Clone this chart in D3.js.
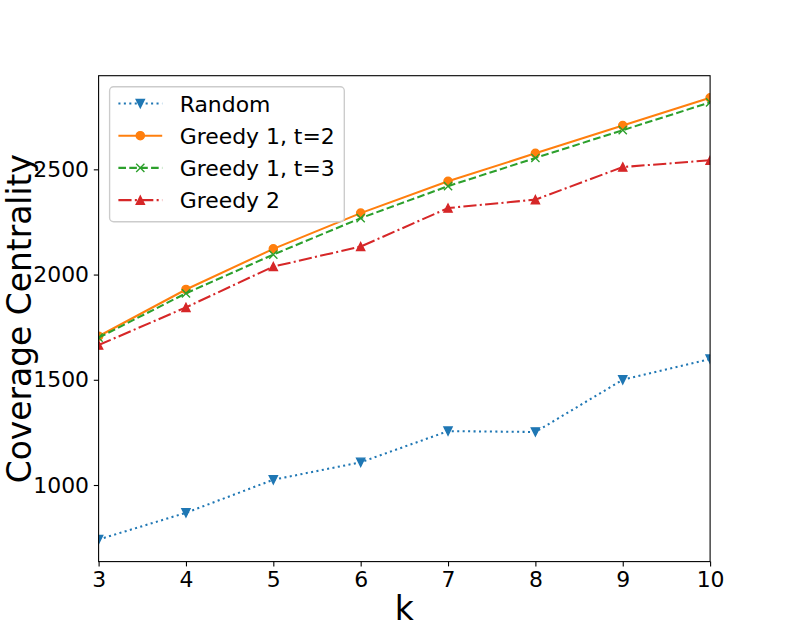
<!DOCTYPE html>
<html lang="en">
	<head>
		<meta charset="utf-8">
		<title>coverage centrality vs k</title>
		<script src="https://d3js.org/d3.v7.min.js"></script>
		<style>
			body { margin: 0; background: #fff; }
			text { font-family: "DejaVu Sans", sans-serif; }
		</style>
	</head>
	<body>
		<script type="text/javascript">
			// data
			var ks = [3, 4, 5, 6, 7, 8, 9, 10]
			var randomVals = [741, 868, 1025, 1108, 1256, 1252, 1500, 1598]
			var greedy1t2 = [1707, 1929, 2122, 2292, 2443, 2576, 2708, 2840]
			var greedy1t3 = [1700, 1911, 2095, 2268, 2420, 2554, 2686, 2818]
			var greedy2 = [1665, 1844, 2038, 2133, 2316, 2356, 2511, 2543]
			var seriesNames = ["Random", "Greedy 1, t=2", "Greedy 1, t=3", "Greedy 2"]
			var yTicks = [1000, 1500, 2000, 2500]

			// window size setup (matplotlib default margins)
			var w = 789
			var h = 631
			var plotLeft = 98.6, plotRight = 710.1, plotTop = 75.7, plotBottom = 561.6
			var pt = 1.37   // points -> px

			var series = [
				{ name: seriesNames[0], values: randomVals, color: "#1f77b4", dash: [1 * 1.5 * pt, 1.65 * 1.5 * pt], marker: "down" },
				{ name: seriesNames[1], values: greedy1t2, color: "#ff7f0e", dash: null, marker: "circle" },
				{ name: seriesNames[2], values: greedy1t3, color: "#2ca02c", dash: [3.7 * 1.5 * pt, 1.6 * 1.5 * pt], marker: "x" },
				{ name: seriesNames[3], values: greedy2, color: "#d62728", dash: [6.4 * 1.5 * pt, 1.6 * 1.5 * pt, 1 * 1.5 * pt, 1.6 * 1.5 * pt], marker: "up" }
			]

			// scales
			var allVals = [].concat(randomVals, greedy1t2, greedy1t3, greedy2)
			var ext = d3.extent(allVals)
			var pad = (ext[1] - ext[0]) * 0.05
			var xScale = d3.scaleLinear()
							.domain([3, 10])
							.range([plotLeft, plotRight])
			var yScale = d3.scaleLinear()
							.domain([ext[0] - pad, ext[1] + pad])
							.range([plotBottom, plotTop])

			var svg = d3.select("body")
						.append("svg")
						.attr("width", w)
						.attr("height", h)

			svg.append("defs").append("clipPath")
				.attr("id", "plotclip")
				.append("rect")
				.attr("x", plotLeft).attr("y", plotTop)
				.attr("width", plotRight - plotLeft).attr("height", plotBottom - plotTop)

			// marker shapes
			var ms = 3 * pt
			function markerPath(type) {
				if (type == "down") return "M" + (-ms) + "," + (-ms) + "L" + ms + "," + (-ms) + "L0," + ms + "Z"
				if (type == "up") return "M0," + (-ms) + "L" + ms + "," + ms + "L" + (-ms) + "," + ms + "Z"
				if (type == "x") return "M" + (-ms) + "," + (-ms) + "L" + ms + "," + ms + "M" + (-ms) + "," + ms + "L" + ms + "," + (-ms)
				return null
			}
			function drawMarker(g, type, color) {
				if (type == "circle") {
					g.append("circle").attr("r", ms).attr("fill", color).attr("stroke", color).attr("stroke-width", pt)
				} else if (type == "x") {
					g.append("path").attr("d", markerPath(type)).attr("fill", "none").attr("stroke", color).attr("stroke-width", pt)
				} else {
					g.append("path").attr("d", markerPath(type)).attr("fill", color).attr("stroke", color).attr("stroke-width", pt)
				}
			}

			var line = d3.line()
						.x(function(d, i) { return xScale(ks[i]) })
						.y(function(d) { return yScale(d) })

			var plot = svg.append("g").attr("clip-path", "url(#plotclip)")

			series.forEach(function(s) {
				plot.append("path")
					.datum(s.values)
					.attr("d", line)
					.attr("fill", "none")
					.attr("stroke", s.color)
					.attr("stroke-width", 1.5 * pt)
					.attr("stroke-dasharray", s.dash ? s.dash.join(",") : null)
				s.values.forEach(function(v, i) {
					var g = plot.append("g")
								.attr("transform", "translate(" + xScale(ks[i]) + "," + yScale(v) + ")")
					drawMarker(g, s.marker, s.color)
				})
			})

			// axes
			var tickLen = 3.5 * pt
			var xAxis = d3.axisBottom(xScale)
							.tickValues(ks)
							.tickFormat(d3.format("d"))
							.tickSizeInner(tickLen).tickSizeOuter(0).tickPadding(tickLen)
			var yAxis = d3.axisLeft(yScale)
							.tickValues(yTicks)
							.tickFormat(d3.format("d"))
							.tickSizeInner(tickLen).tickSizeOuter(0).tickPadding(tickLen)

			svg.append("g").attr("transform", "translate(0," + plotBottom + ")").call(xAxis)
			svg.append("g").attr("transform", "translate(" + plotLeft + ",0)").call(yAxis)
			svg.selectAll(".domain").remove()
			svg.selectAll(".tick line").attr("stroke", "#000").attr("stroke-width", 0.8 * pt)
			svg.selectAll(".tick text")
				.attr("fill", "#000")
				.attr("font-size", 16 * pt + "px")
				.attr("font-family", "DejaVu Sans, sans-serif")

			// frame
			svg.append("rect")
				.attr("x", plotLeft).attr("y", plotTop)
				.attr("width", plotRight - plotLeft).attr("height", plotBottom - plotTop)
				.attr("fill", "none")
				.attr("stroke", "#000")
				.attr("stroke-width", 0.8 * pt)

			// axis labels
			svg.append("text")
				.text("k")
				.attr("x", (plotLeft + plotRight) / 2)
				.attr("y", 620)
				.attr("text-anchor", "middle")
				.attr("font-size", 24 * pt + "px")
			svg.append("text")
				.text("Coverage Centrality")
				.attr("transform", "translate(" + 31 + "," + (plotTop + plotBottom) / 2 + ") rotate(-90)")
				.attr("text-anchor", "middle")
				.attr("font-size", 24 * pt + "px")

			// legend
			var fs = 16 * pt
			var legend = svg.append("g")
			legend.append("rect")
				.attr("x", 109.6).attr("y", 86.7)
				.attr("width", 234.7).attr("height", 135)
				.attr("rx", 4).attr("ry", 4)
				.attr("fill", "#fff").attr("fill-opacity", 0.8)
				.attr("stroke", "#cccccc").attr("stroke-width", pt)

			series.forEach(function(s, i) {
				var yy = 103.5 + i * 32.2
				legend.append("line")
					.attr("x1", 118.4).attr("x2", 162.2)
					.attr("y1", yy).attr("y2", yy)
					.attr("stroke", s.color)
					.attr("stroke-width", 1.5 * pt)
					.attr("stroke-dasharray", s.dash ? s.dash.join(",") : null)
				var g = legend.append("g").attr("transform", "translate(140.3," + yy + ")")
				drawMarker(g, s.marker, s.color)
				legend.append("text")
					.text(s.name)
					.attr("x", 179.7)
					.attr("y", yy + 8)
					.attr("font-size", fs + "px")
					.attr("fill", "#000")
			})
		</script>
	</body>
</html>
